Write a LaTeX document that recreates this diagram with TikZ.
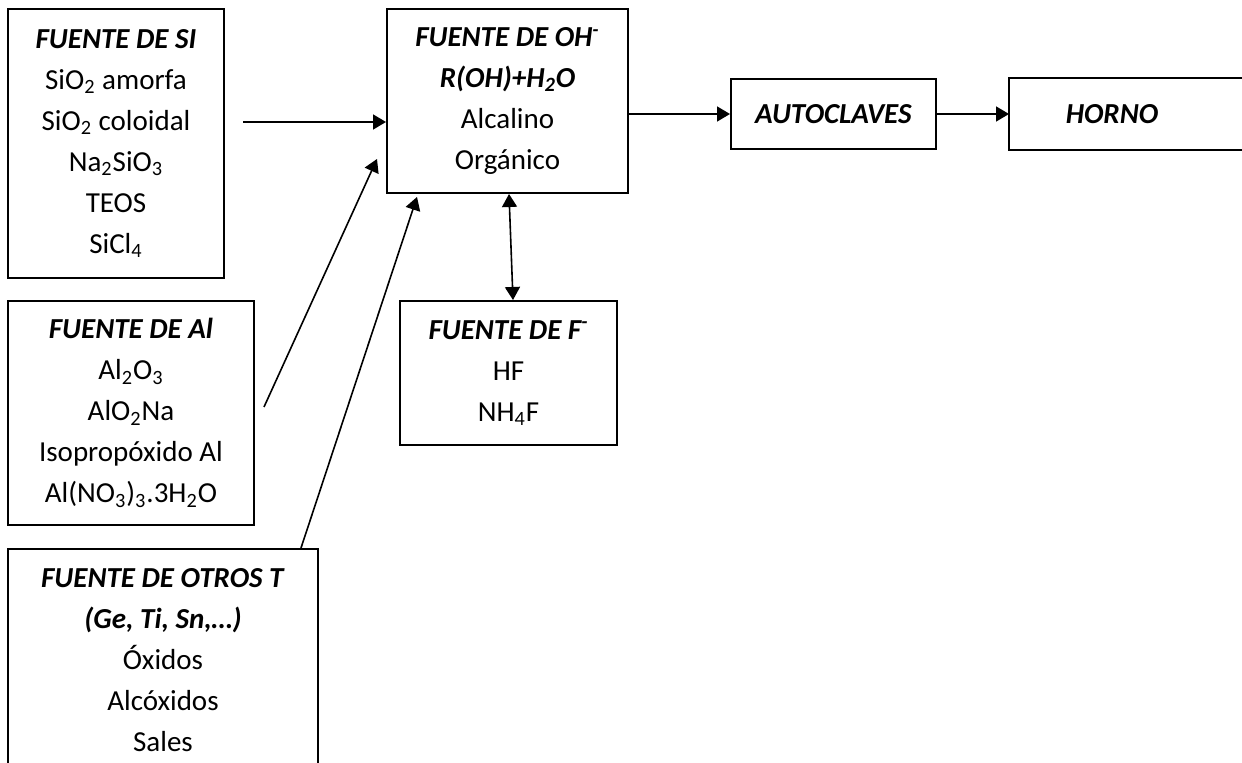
\documentclass[tikz,border=0pt]{standalone}
\usepackage{fontspec}
\setmainfont{Carlito}
\usetikzlibrary{arrows.meta}

\begin{document}
\begin{tikzpicture}[x=0.5pt, y=-0.5pt, >={Triangle[length=6.5pt, width=7.5pt]}, line width=0.8pt,
  caja/.style={draw, line width=1pt, align=center, inner sep=0pt, font=\fontsize{14.5}{20.5}\selectfont}]
  \useasboundingbox (0,0) rectangle (1242,763);
  % fuente de silicio
  \node[caja, minimum width=108pt, minimum height=134.5pt] (si) at (116,143.5)
    {\textbf{\textit{FUENTE DE SI}}\\SiO\textsubscript{2} amorfa\\SiO\textsubscript{2} coloidal\\
     Na\textsubscript{2}SiO\textsubscript{3}\\TEOS\\SiCl\textsubscript{4}};
  % fuente de OH (mezcla)
  \node[caja, minimum width=120.5pt, minimum height=92pt] (oh) at (507.5,101)
    {\textbf{\textit{FUENTE DE OH\textsuperscript{-}}}\\\textbf{\textit{R(OH)+H\textsubscript{2}O}}\\Alcalino\\Orgánico};
  % autoclaves y horno
  \node[caja, minimum width=102.5pt, minimum height=35pt] (auto) at (833.5,114) {\textbf{\textit{AUTOCLAVES}}};
  \node[caja, draw=none, minimum width=102pt, minimum height=35pt] (horno) at (1112,114) {\textbf{\textit{HORNO}}};
  \draw[line width=1pt] ([xshift=150pt]horno.north west) -- (horno.north west) -- (horno.south west) -- ++(300,0);
  % fuente de aluminio
  \node[caja, minimum width=123pt, minimum height=112pt] (al) at (131,413)
    {\textbf{\textit{FUENTE DE Al}}\\Al\textsubscript{2}O\textsubscript{3}\\AlO\textsubscript{2}Na\\Isopropóxido Al\\
     Al(NO\textsubscript{3})\textsubscript{3}.3H\textsubscript{2}O};
  % fuente de otros T
  \node[caja, minimum width=155pt, minimum height=111pt] (otros) at (163,660)
    {\textbf{\textit{FUENTE DE OTROS T}}\\\textbf{\textit{(Ge, Ti, Sn,…)}}\\Óxidos\\Alcóxidos\\Sales};
  % fuente de fluor
  \node[caja, minimum width=108.5pt, minimum height=72pt] (f) at (508.5,373)
    {\textbf{\textit{FUENTE DE F\textsuperscript{-}}}\\HF\\NH\textsubscript{4}F};
  % flechas
  \draw[->] ([xshift=9pt, yshift=10.75pt]si.east) -- ([yshift=-10.5pt]oh.west);
  \draw[->] ([xshift=4.5pt, yshift=3pt]al.east) -- ([xshift=-4.5pt, yshift=17.5pt]oh.south west);
  \draw[->] ([xshift=-9pt]otros.north east) -- ([xshift=15.5pt, yshift=-1.5pt]oh.south west);
  \draw[<->] ([xshift=0.75pt]oh.south) -- ([xshift=2.25pt]f.north);
  \draw[->] (oh.east |- auto.west) -- (auto.west);
  \draw[->] (auto.east) -- (horno.west);
\end{tikzpicture}
\end{document}
